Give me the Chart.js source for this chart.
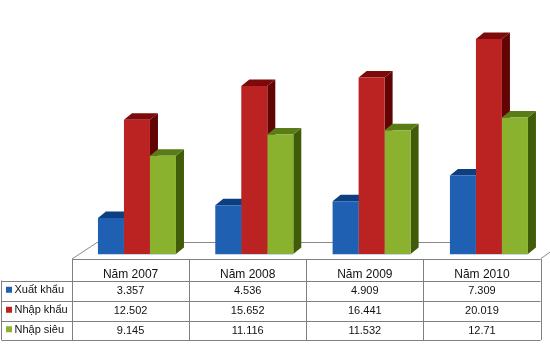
<!DOCTYPE html>
<html>
<head>
<meta charset="utf-8">
<script src="https://cdn.jsdelivr.net/npm/chart.js@4"></script>
<style>
    html, body { margin: 0; padding: 0; background: #fff; }
    canvas { display: block; }
</style>
</head>
<body>
<canvas id="grafico" width="550" height="364"></canvas>
<script>
const categorias = ['Năm 2007', 'Năm 2008', 'Năm 2009', 'Năm 2010'];
const xuatKhau = [3.357, 4.536, 4.909, 7.309];
const nhapKhau = [12.502, 15.652, 16.441, 20.019];
const nhapSieu = [9.145, 11.116, 11.532, 12.71];

// front, top and side colour of each series
const mauXuat = ['#2060b2', '#0d3f80', '#0d3f80'];
const mauNhap = ['#bb2323', '#7c0a0a', '#620404'];
const mauSieu = ['#8ab22e', '#5a7c16', '#405c08'];

const sauX = 8;
const sauY = 6.5;
const bangTrai = 72;
const bangPhai = 540.5;
const hangY = [259, 280.5, 301, 320.5, 340];

function mat(ctx, diem, mau) {
    ctx.fillStyle = mau;
    ctx.beginPath();
    diem.forEach((p, i) => i ? ctx.lineTo(p[0], p[1]) : ctx.moveTo(p[0], p[1]));
    ctx.closePath();
    ctx.fill();
}

function duong(ctx, x1, y1, x2, y2) {
    ctx.beginPath();
    ctx.moveTo(x1, y1);
    ctx.lineTo(x2, y2);
    ctx.stroke();
}

// floor lines and the depth faces go behind the bars
const mat3d = {
    id: 'mat3d',
    beforeDatasetsDraw(chart) {
        const ctx = chart.ctx;
        ctx.save();
        ctx.strokeStyle = '#8a8a8a';
        ctx.lineWidth = 1;
        duong(ctx, bangTrai, 259, 97, 242.5);
        duong(ctx, 97, 242.5, 534, 242.5);
        duong(ctx, bangPhai, 259, 550, 252);

        chart.data.datasets.forEach((ds, d) => {
            chart.getDatasetMeta(d).data.forEach(bar => {
                const p = bar.getProps(['x', 'y', 'base', 'width'], true);
                const x0 = p.x - p.width / 2;
                const x1 = p.x + p.width / 2;
                mat(ctx, [[x1, p.y], [x1 + sauX, p.y - sauY], [x1 + sauX, p.base - sauY], [x1, p.base]], ds.mauBen);
                mat(ctx, [[x0, p.y], [x0 + sauX, p.y - sauY], [x1 + sauX, p.y - sauY], [x1, p.y]], ds.mauTren);
            });
        });
        ctx.restore();
    },
    // pale edge under the bars
    afterDatasetsDraw(chart) {
        const ctx = chart.ctx;
        ctx.save();
        ctx.fillStyle = '#c4d6ee';
        chart.getDatasetMeta(0).data.forEach((bar, i) => {
            const a = bar.getProps(['x', 'base', 'width'], true);
            const c = chart.getDatasetMeta(2).data[i].getProps(['x', 'width'], true);
            ctx.fillRect(a.x - a.width / 2, a.base, c.x + c.width / 2 - a.x + a.width / 2, 1);
        });
        ctx.restore();
    }
};

// data table under the plot
const bangSoLieu = {
    id: 'bangSoLieu',
    afterDraw(chart) {
        const ctx = chart.ctx;
        const cot = (bangPhai - bangTrai) / categorias.length;
        ctx.save();
        ctx.strokeStyle = '#808080';
        ctx.lineWidth = 1;
        hangY.forEach((y, i) => duong(ctx, i ? 1.5 : bangTrai, Math.round(y) + 0.5, bangPhai, Math.round(y) + 0.5));
        duong(ctx, 1.5, hangY[1], 1.5, hangY[4]);
        for (let i = 0; i <= categorias.length; i++) {
            const x = Math.round(bangTrai + cot * i) + 0.5;
            duong(ctx, x, hangY[0], x, hangY[4]);
        }

        ctx.textBaseline = 'middle';
        ctx.textAlign = 'center';
        ctx.fillStyle = '#111';
        ctx.font = '12px "Liberation Sans"';
        categorias.forEach((c, i) => ctx.fillText(c, bangTrai + cot * (i + 0.5), 274.5));

        ctx.font = '11px "Liberation Sans"';
        chart.data.datasets.forEach((ds, d) => {
            const y = (hangY[d + 1] + hangY[d + 2]) / 2;
            ds.data.forEach((v, i) => ctx.fillText(String(v), bangTrai + cot * (i + 0.5), y + 0.5));
            ctx.fillStyle = ds.backgroundColor;
            ctx.fillRect(6, y - 4, 6, 6);
            ctx.fillStyle = '#111';
            ctx.textAlign = 'left';
            ctx.fillText(ds.label, 14.5, y - 0.5);
            ctx.textAlign = 'center';
        });
        ctx.restore();
    }
};

function tapDuLieu(nhan, giaTri, mau) {
    return {
        label: nhan,
        data: giaTri,
        backgroundColor: mau[0],
        mauTren: mau[1],
        mauBen: mau[2],
        borderWidth: 0,
        barPercentage: 1,
        categoryPercentage: 0.665
    };
}

new Chart(document.getElementById('grafico').getContext('2d'), {
    type: 'bar',
    data: {
        labels: categorias,
        datasets: [
            tapDuLieu('Xuất khẩu', xuatKhau, mauXuat),
            tapDuLieu('Nhập khẩu', nhapKhau, mauNhap),
            tapDuLieu('Nhập siêu', nhapSieu, mauSieu)
        ]
    },
    options: {
        responsive: false,
        animation: false,
        layout: { padding: { left: 78.3, right: 2.4, top: 0, bottom: 110 } },
        scales: {
            x: { display: false },
            y: { display: false, min: 0, max: 23.65 }
        },
        plugins: {
            legend: { display: false },
            title: { display: false },
            tooltip: { enabled: false }
        }
    },
    plugins: [mat3d, bangSoLieu]
});
</script>
</body>
</html>
